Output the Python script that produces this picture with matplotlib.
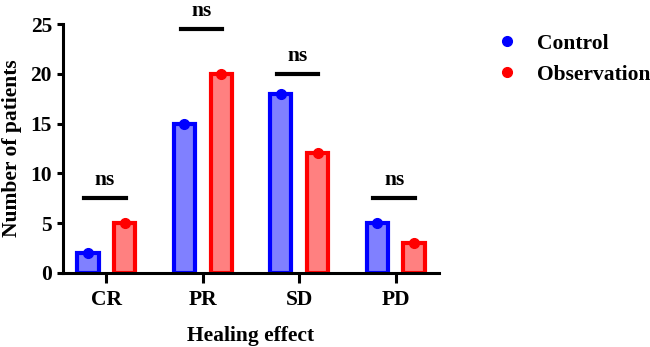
import numpy as np
import matplotlib
matplotlib.use('Agg')
import matplotlib.pyplot as plt

plt.rcParams['font.family'] = ['Liberation Serif', 'DejaVu Serif']
plt.rcParams['font.weight'] = 'bold'

# data
categories = ['CR', 'PR', 'SD', 'PD']
control = [2, 15, 18, 5]
observation = [5, 20, 12, 3]
sig_heights = [7.5, 24.5, 20, 7.5]
sig_labels = ['ns', 'ns', 'ns', 'ns']

fs = 15.5

fig = plt.figure(figsize=(6.5, 3.47), dpi=100)
ax = fig.add_axes([63/650, 1 - 273/347, 376/650, 249/347])

x = np.arange(len(categories))
off = 0.19
w = 0.22

ax.bar(x - off, control, width=w, color='#8080ff', edgecolor='#0000ff', linewidth=3, zorder=2)
ax.bar(x + off, observation, width=w, color='#ff8080', edgecolor='#ff0000', linewidth=3, zorder=2)
ax.plot(x - off, control, 'o', color='#0000ff', markersize=7, zorder=3, clip_on=False, label='Control')
ax.plot(x + off, observation, 'o', color='#ff0000', markersize=7, zorder=3, clip_on=False, label='Observation')

# significance bars
for i in range(len(categories)):
    ax.plot([x[i] - 0.23, x[i] + 0.2], [sig_heights[i], sig_heights[i]], color='black', linewidth=3, clip_on=False)
    ax.text(x[i] - 0.015, sig_heights[i] + 0.8, sig_labels[i], ha='center', va='bottom', fontsize=fs, fontweight='bold')

ax.set_xlim(-0.45, 3.45)
ax.set_ylim(0, 25)
ax.set_yticks([0, 5, 10, 15, 20, 25])
ax.set_xticks(x)
ax.set_xticklabels(categories)

for s in ['top', 'right']:
    ax.spines[s].set_visible(False)
for s in ['left', 'bottom']:
    ax.spines[s].set_linewidth(2.2)
ax.tick_params(axis='both', width=2.2, labelsize=fs, direction='out')
ax.tick_params(axis='x', length=7, pad=5)
ax.tick_params(axis='y', length=4, pad=4)
for lab in ax.get_xticklabels() + ax.get_yticklabels():
    lab.set_fontweight('bold')

ax.set_ylabel('Number of patients', fontsize=fs, fontweight='bold', labelpad=6)
ax.set_xlabel('Healing effect', fontsize=fs, fontweight='bold', labelpad=12)

ax.legend(loc='upper left', bbox_to_anchor=(1.102, 1.038), frameon=False, fontsize=fs,
          handletextpad=0.85, labelspacing=0.5, handlelength=1.0, markerscale=1.0)

fig.savefig('out.png', dpi=100)
